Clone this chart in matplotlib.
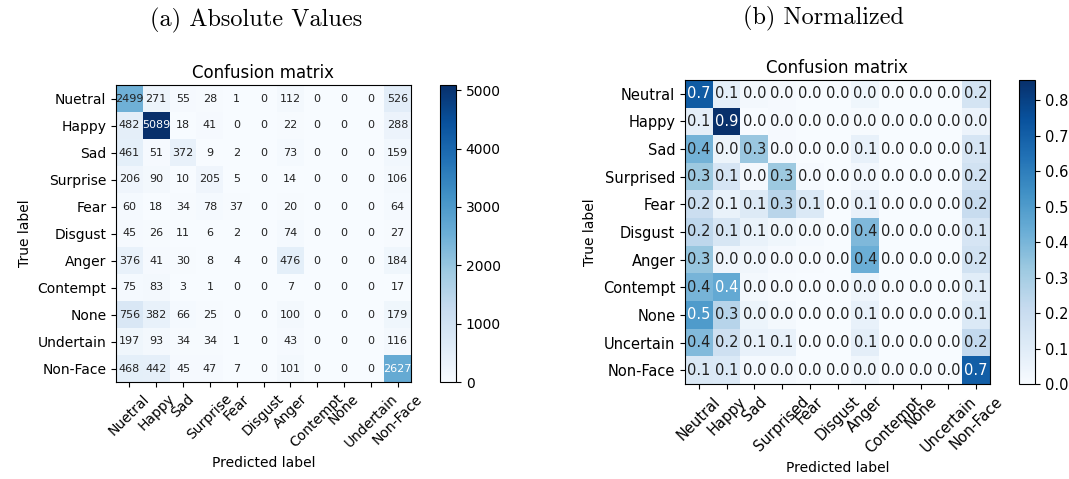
import numpy as np
import matplotlib
matplotlib.use("Agg")
import matplotlib.pyplot as plt

# class names as written on each panel (left one has typos in the source)
labels_abs = ["Nuetral", "Happy", "Sad", "Surprise", "Fear", "Disgust",
              "Anger", "Contempt", "None", "Undertain", "Non-Face"]
labels_norm = ["Neutral", "Happy", "Sad", "Surprised", "Fear", "Disgust",
               "Anger", "Contempt", "None", "Uncertain", "Non-Face"]

counts = np.array([
    [2499, 271, 55, 28, 1, 0, 112, 0, 0, 0, 526],
    [482, 5089, 18, 41, 0, 0, 22, 0, 0, 0, 288],
    [461, 51, 372, 9, 2, 0, 73, 0, 0, 0, 159],
    [206, 90, 10, 205, 5, 0, 14, 0, 0, 0, 106],
    [60, 18, 34, 78, 37, 0, 20, 0, 0, 0, 64],
    [45, 26, 11, 6, 2, 0, 74, 0, 0, 0, 27],
    [376, 41, 30, 8, 4, 0, 476, 0, 0, 0, 184],
    [75, 83, 3, 1, 0, 0, 7, 0, 0, 0, 17],
    [756, 382, 66, 25, 0, 0, 100, 0, 0, 0, 179],
    [197, 93, 34, 34, 1, 0, 43, 0, 0, 0, 116],
    [468, 442, 45, 47, 7, 0, 101, 0, 0, 0, 2627],
])
normed = counts / counts.sum(axis=1, keepdims=True)

W, H = 1069, 479
fig = plt.figure(figsize=(W / 100, H / 100), dpi=100)


def box(x0, y0, x1, y1):
    return [x0 / W, 1 - y1 / H, (x1 - x0) / W, (y1 - y0) / H]


def draw_cm(ax, cax, cm, labels, fmt, fs, lfs):
    im = ax.imshow(cm, interpolation="nearest", cmap=plt.cm.Blues, aspect="auto")
    ax.set_title("Confusion matrix", fontsize=12, pad=5)
    cb = fig.colorbar(im, cax=cax)
    cb.ax.tick_params(labelsize=lfs)
    n = len(labels)
    ax.set_xticks(np.arange(n))
    ax.set_xticklabels(labels, rotation=45, fontsize=lfs)
    ax.set_yticks(np.arange(n))
    ax.set_yticklabels(labels, fontsize=lfs)
    thresh = cm.max() / 2.
    for i in range(n):
        for j in range(n):
            ax.text(j, i, format(cm[i, j], fmt), ha="center", va="center",
                    fontsize=fs,
                    color="white" if cm[i, j] > thresh else "#222222")
    ax.set_ylabel("True label", fontsize=10)
    ax.set_xlabel("Predicted label", fontsize=10)
    return cb


ax1 = fig.add_axes(box(116, 85, 411, 382))
cax1 = fig.add_axes(box(440, 85, 456, 382))
draw_cm(ax1, cax1, counts, labels_abs, "d", 8, 10)

ax2 = fig.add_axes(box(685, 80, 990, 384))
cax2 = fig.add_axes(box(1019, 80, 1035, 384))
draw_cm(ax2, cax2, normed, labels_norm, ".1f", 10.5, 10.5)

fig.text(256 / W, 1 - 20 / H, "(a) Absolute Values", fontfamily="cmr10",
         fontsize=17.5, ha="center", va="center")
fig.text(823 / W, 1 - 18 / H, "(b) Normalized", fontfamily="cmr10",
         fontsize=17.5, ha="center", va="center")

fig.savefig("out.png", dpi=100)
